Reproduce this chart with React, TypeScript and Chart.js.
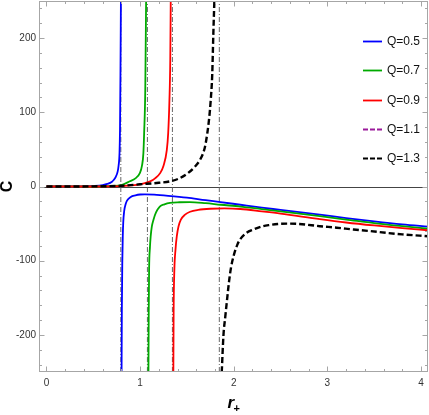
import React, { useEffect, useRef } from 'react';
import { Chart, registerables } from 'chart.js';

Chart.register(...registerables);

// ---- data (r+ , C) ----
const seriesLabels = ['Q=0.5', 'Q=0.7', 'Q=0.9', 'Q=1.1', 'Q=1.3'];

const q05UpperR = [0, 0.2, 0.4, 0.5, 0.6, 0.65, 0.7, 0.72, 0.74, 0.76, 0.77, 0.78, 0.785, 0.79, 0.795];
const q05UpperC = [0, 0, 0.2, 0.8, 2, 3.5, 6.5, 9, 13, 20, 28, 45, 75, 150, 250];
const q05LowerR = [0.802, 0.805, 0.81, 0.815, 0.82, 0.83, 0.845, 0.86, 0.9, 0.95, 1.0, 1.05, 1.15, 1.3, 1.5, 1.7, 1.86, 2.07, 2.3, 2.5, 2.92, 3.2, 3.5, 3.8, 4.08];
const q05LowerC = [-250, -165, -100, -66, -48, -33, -24, -19, -14, -12, -10.8, -10.5, -11, -12.5, -15, -18.5, -21, -24.6, -28.5, -31.5, -38, -42.5, -47, -51, -54];

const q07UpperR = [0, 0.3, 0.6, 0.8, 0.89, 0.95, 0.997, 1.02, 1.035, 1.043, 1.055, 1.064];
const q07UpperC = [0, 0, 0.3, 2, 7, 11, 18, 28, 45, 72, 130, 250];
const q07LowerR = [1.089, 1.092, 1.096, 1.105, 1.113, 1.125, 1.142, 1.17, 1.21, 1.26, 1.32, 1.42, 1.53, 1.7, 1.86, 2.07, 2.3, 2.5, 2.92, 3.2, 3.5, 3.8, 4.08];
const q07LowerC = [-250, -170, -112, -82, -67, -54, -45, -35, -27, -24, -22, -21.2, -21, -22.5, -24.6, -27, -30.5, -33.5, -40, -44.5, -49.5, -53.5, -57];

const q09UpperR = [0, 0.4, 0.7, 0.9, 1.0, 1.107, 1.16, 1.214, 1.25, 1.285, 1.3, 1.313, 1.322, 1.327];
const q09UpperC = [0, 0, 0.2, 1.5, 3, 7, 11, 18, 28, 49, 72, 116, 170, 250];
const q09LowerR = [1.355, 1.358, 1.366, 1.378, 1.392, 1.41, 1.434, 1.48, 1.534, 1.62, 1.75, 1.9, 2.07, 2.3, 2.5, 2.92, 3.2, 3.5, 3.8, 4.08];
const q09LowerC = [-250, -170, -112, -85, -67, -54, -45, -38, -34, -31.5, -30, -29.6, -30.3, -33.5, -36.5, -44, -48.5, -52.5, -56, -59];

// Q=1.1 appears only in the legend of the reference
const q11UpperR: number[] = [];
const q11UpperC: number[] = [];
const q11LowerR: number[] = [];
const q11LowerC: number[] = [];

const q13UpperR = [0, 0.5, 0.8, 1.0, 1.2, 1.32, 1.42, 1.51, 1.58, 1.64, 1.69, 1.718, 1.74, 1.754, 1.77, 1.782, 1.793];
const q13UpperC = [0, 0.2, 1, 3, 5, 7, 11, 18, 26, 36, 52, 72, 95, 116, 150, 205, 250];
const q13LowerR = [1.872, 1.89, 1.91, 1.925, 1.95, 1.97, 2.0, 2.04, 2.07, 2.13, 2.21, 2.3, 2.38, 2.47, 2.57, 2.7, 2.92, 3.1, 3.28, 3.45, 3.63, 3.8, 4.08];
const q13LowerC = [-250, -201, -175, -157, -128, -110, -93, -78, -71, -63, -58, -54, -52, -50.5, -50, -50.5, -53.5, -55.5, -58, -60, -62.5, -64.5, -67];

const asymptoteR = [0.794, 1.078, 1.345, 1.846];

const xTickValues = [0, 1, 2, 3, 4];
const yTickValues = [-200, -100, 0, 100, 200];
const xMinorStep = 0.2;
const yMinorStep = 20;
const xMin = -0.08;
const xMax = 4.075;
const yMin = -250;
const yMax = 250;

// ---- styles ----
const colors = ['#0000ff', '#00aa00', '#ff0000', '#9b1b9b', '#000000'];
const widths = [1.8, 1.8, 1.8, 2, 2.4];
const dashes: number[][] = [[], [], [], [5, 2], [6, 3]];

const TICK_FONT = "'Liberation Sans Narrow', 'Liberation Sans', Arial, sans-serif";

function zip(r: number[], c: number[]) {
  return r.map((v, i) => ({ x: v, y: c[i] }));
}

function branches(ur: number[], uc: number[], lr: number[], lc: number[]) {
  const up = zip(ur, uc);
  const lo = zip(lr, lc);
  if (!up.length || !lo.length) return [...up, ...lo];
  const gapX = (ur[ur.length - 1] + lr[0]) / 2;
  return [...up, { x: gapX, y: null as any }, ...lo];
}

const seriesData = [
  branches(q05UpperR, q05UpperC, q05LowerR, q05LowerC),
  branches(q07UpperR, q07UpperC, q07LowerR, q07LowerC),
  branches(q09UpperR, q09UpperC, q09LowerR, q09LowerC),
  branches(q11UpperR, q11UpperC, q11LowerR, q11LowerC),
  branches(q13UpperR, q13UpperC, q13LowerR, q13LowerC),
];

const framePlugin = {
  id: 'frameAndDecor',
  beforeDatasetsDraw(chart: any) {
    const { ctx, chartArea, scales } = chart;
    const y0 = Math.round(scales.y.getPixelForValue(0)) + 0.5;
    ctx.save();
    ctx.strokeStyle = '#444';
    ctx.lineWidth = 1;
    ctx.beginPath();
    ctx.moveTo(chartArea.left, y0);
    ctx.lineTo(chartArea.right, y0);
    ctx.stroke();
    ctx.restore();
  },
  afterDatasetsDraw(chart: any) {
    const { ctx, chartArea, scales } = chart;
    const L = Math.round(chartArea.left) + 0.5;
    const R = Math.round(chartArea.right) - 0.5;
    const T = Math.round(chartArea.top) + 0.5;
    const B = Math.round(chartArea.bottom) - 0.5;
    ctx.save();
    ctx.strokeStyle = '#a6a6a6';
    ctx.lineWidth = 1;
    ctx.strokeRect(L, T, R - L, B - T);
    const major = 5;
    const minor = 2.5;
    ctx.beginPath();
    // x ticks (bottom & top)
    for (let v = xTickValues[0]; v <= xTickValues[xTickValues.length - 1] + 1e-9; v += xMinorStep) {
      const isMajor = Math.abs(v - Math.round(v)) < 1e-6;
      const len = isMajor ? major : minor;
      const px = Math.round(scales.x.getPixelForValue(v)) + 0.5;
      ctx.moveTo(px, B);
      ctx.lineTo(px, B - len);
      ctx.moveTo(px, T);
      ctx.lineTo(px, T + len);
    }
    // y ticks (left & right)
    for (let v = -240; v <= 240 + 1e-9; v += yMinorStep) {
      const isMajor = Math.abs(v % 100) < 1e-6;
      const len = isMajor ? major : minor;
      const py = Math.round(scales.y.getPixelForValue(v)) + 0.5;
      ctx.moveTo(L, py);
      ctx.lineTo(L + len, py);
      ctx.moveTo(R, py);
      ctx.lineTo(R - len, py);
    }
    ctx.stroke();
    ctx.restore();
  },
  afterDraw(chart: any) {
    const { ctx, chartArea, scales } = chart;
    ctx.save();
    // axis titles
    ctx.fillStyle = '#000';
    ctx.font = "bold 16px 'Liberation Sans', Arial, sans-serif";
    ctx.textAlign = 'center';
    ctx.textBaseline = 'middle';
    ctx.save();
    ctx.translate(8, scales.y.getPixelForValue(0));
    ctx.rotate(-Math.PI / 2);
    ctx.fillText('C', 0, 0);
    ctx.restore();

    const cx = (chartArea.left + chartArea.right) / 2;
    ctx.textAlign = 'left';
    ctx.textBaseline = 'alphabetic';
    ctx.font = "italic bold 17px 'Liberation Sans', Arial, sans-serif";
    ctx.fillText('r', cx - 6, 408);
    ctx.font = "bold 11px 'Liberation Sans', Arial, sans-serif";
    ctx.fillText('+', cx, 412);

    // legend
    const lx0 = chartArea.right - 65;
    const lx1 = chartArea.right - 46;
    const tx = chartArea.right - 41;
    ctx.font = `12px ${TICK_FONT}`;
    ctx.textBaseline = 'middle';
    for (let i = 0; i < seriesLabels.length; i++) {
      const y = Math.round(chartArea.top + 40 + i * 29.3) + 0.5;
      ctx.strokeStyle = colors[i];
      ctx.lineWidth = i >= 3 ? 2 : 1.8;
      ctx.setLineDash(i >= 3 ? [5, 2] : []);
      ctx.beginPath();
      ctx.moveTo(lx0, y);
      ctx.lineTo(lx1, y);
      ctx.stroke();
      ctx.setLineDash([]);
      ctx.fillStyle = '#111';
      ctx.fillText(seriesLabels[i], tx, y);
    }
    ctx.restore();
  },
};

export default function App() {
  const ref = useRef<HTMLCanvasElement | null>(null);
  useEffect(() => {
    if (!ref.current) return;
    const datasets: any[] = seriesData.map((d, i) => ({
      label: seriesLabels[i],
      data: d,
      showLine: true,
      borderColor: colors[i],
      backgroundColor: colors[i],
      borderWidth: widths[i],
      borderDash: dashes[i],
      pointRadius: 0,
      pointHoverRadius: 0,
      cubicInterpolationMode: 'monotone',
      spanGaps: false,
      order: 4 - i,
    }));
    asymptoteR.forEach((a) => {
      datasets.push({
        label: 'asymptote',
        data: [
          { x: a, y: yMin },
          { x: a, y: yMax },
        ],
        showLine: true,
        borderColor: '#555',
        borderWidth: 0.9,
        borderDash: [5, 2, 1, 2],
        pointRadius: 0,
        tension: 0,
        order: 10,
      });
    });
    const chart = new Chart(ref.current, {
      type: 'scatter',
      data: { datasets },
      options: {
        animation: false,
        responsive: false,
        events: [],
        layout: { padding: { top: 1, right: 1, left: 0, bottom: 0 } },
        plugins: { legend: { display: false }, tooltip: { enabled: false } },
        scales: {
          x: {
            type: 'linear',
            min: xMin,
            max: xMax,
            grid: { display: false, drawTicks: false },
            border: { display: false },
            ticks: {
              color: '#333',
              font: { family: TICK_FONT, size: 10 },
              padding: 5,
              maxRotation: 0,
              callback: (v: any) => String(v),
            },
            afterBuildTicks: (s: any) => {
              s.ticks = xTickValues.map((v) => ({ value: v }));
            },
            afterFit: (s: any) => {
              s.height = 43;
              s.paddingLeft = 0;
              s.paddingRight = 0;
            },
          },
          y: {
            type: 'linear',
            min: yMin,
            max: yMax,
            grid: { display: false, drawTicks: false },
            border: { display: false },
            ticks: {
              color: '#333',
              font: { family: TICK_FONT, size: 10 },
              padding: 3,
              callback: (v: any) => String(v),
            },
            afterBuildTicks: (s: any) => {
              s.ticks = yTickValues.map((v) => ({ value: v }));
            },
            afterFit: (s: any) => {
              s.width = 39;
              s.paddingTop = 0;
              s.paddingBottom = 0;
            },
          },
        },
      } as any,
      plugins: [framePlugin],
    });
    return () => chart.destroy();
  }, []);
  return (
    <div style={{ position: 'fixed', left: 0, top: 0, width: 429, height: 415, background: '#fff' }}>
      <canvas ref={ref} width={429} height={415} style={{ width: 429, height: 415, display: 'block' }} />
    </div>
  );
}
